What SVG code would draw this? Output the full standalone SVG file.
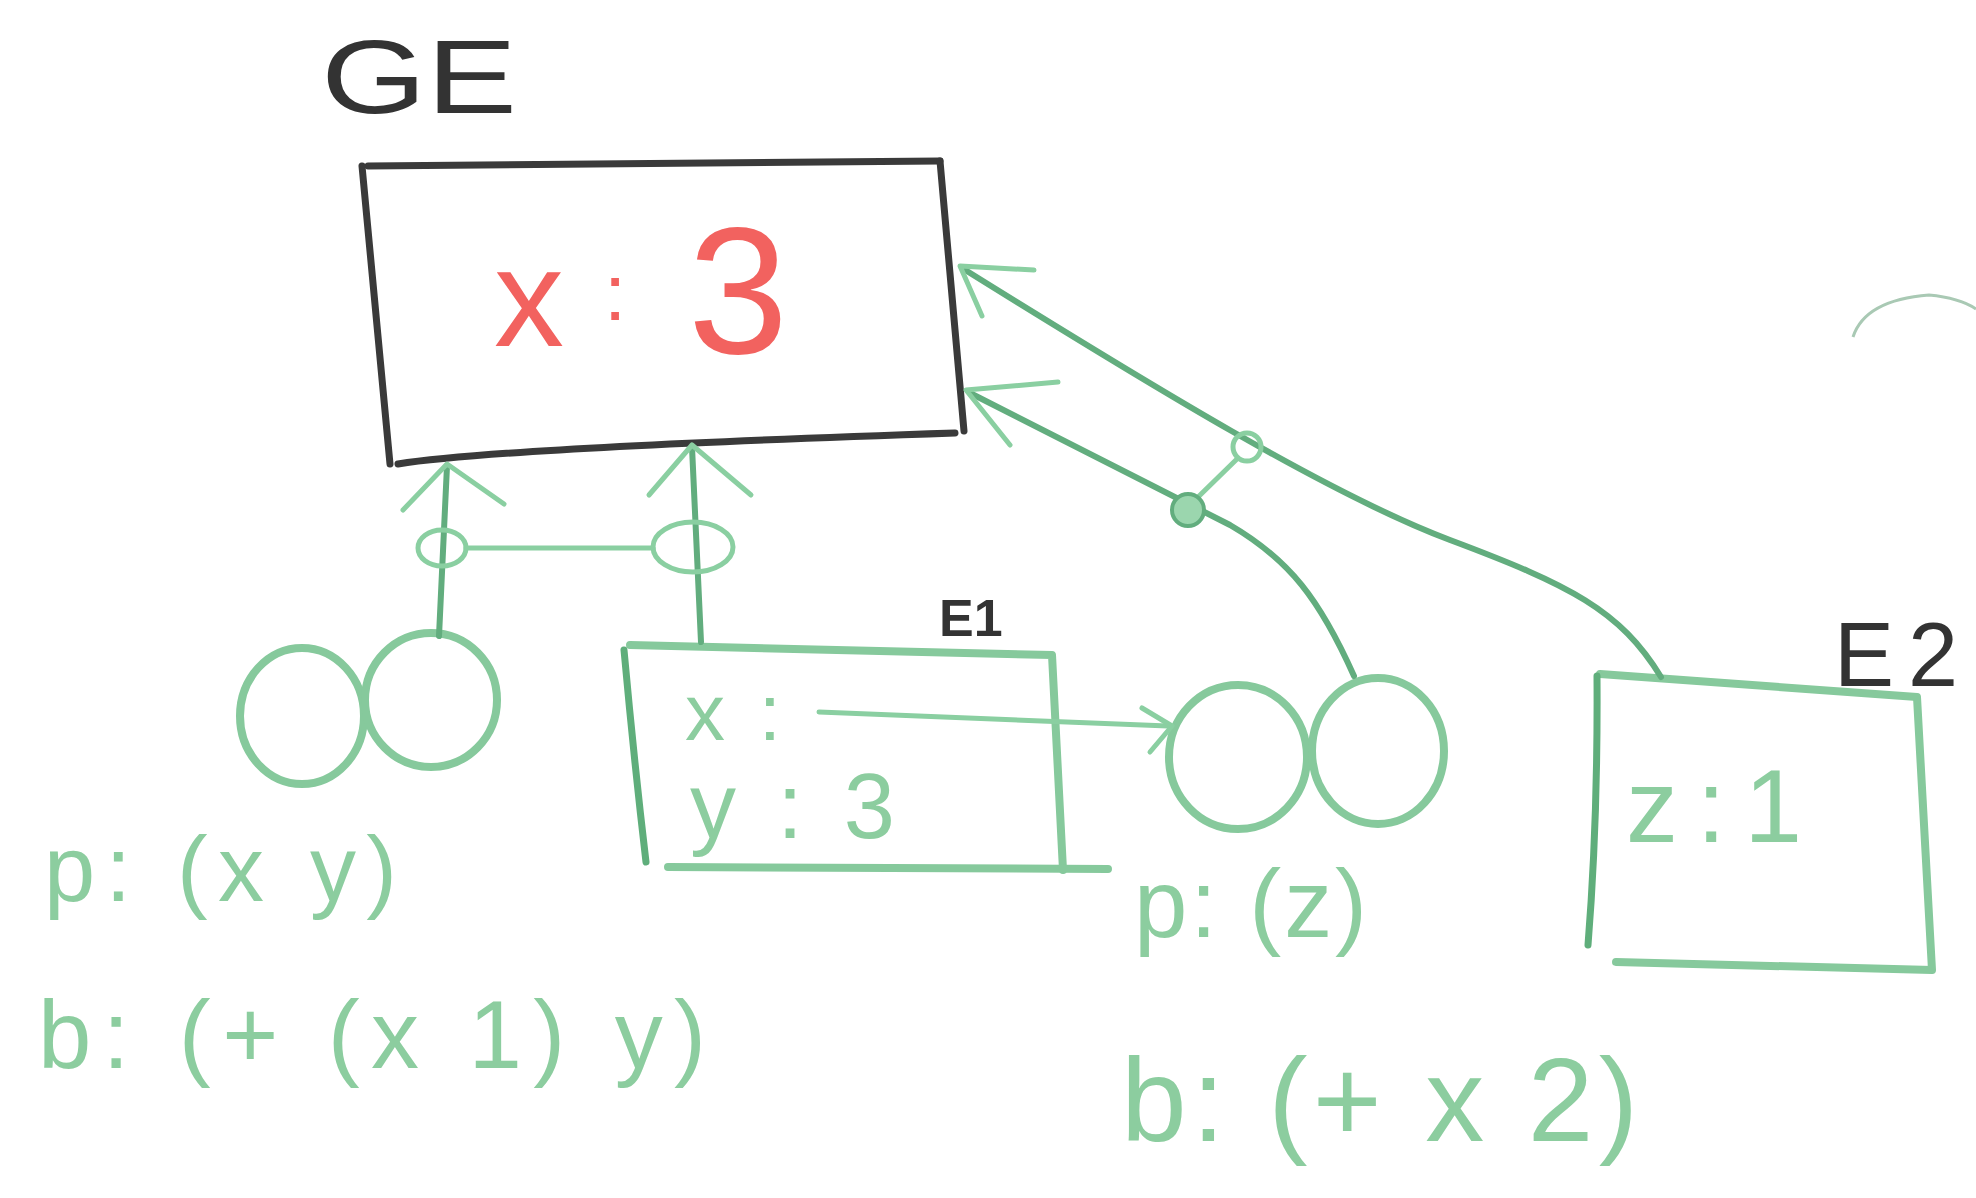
<svg xmlns="http://www.w3.org/2000/svg" width="1976" height="1198" viewBox="0 0 1976 1198">
<style>
.bg{fill:#ffffff}
.dark{fill:none;stroke:#3a3a3a;stroke-width:7;stroke-linecap:round;stroke-linejoin:round}
.box{fill:none;stroke:#86c99c;stroke-width:8;stroke-linecap:round;stroke-linejoin:round}
.boxd{fill:none;stroke:#5fae7b;stroke-width:7;stroke-linecap:round}
.wire{fill:none;stroke:#62ad7e;stroke-width:6;stroke-linecap:round;stroke-linejoin:round}
.wirel{fill:none;stroke:#8acfa1;stroke-width:5;stroke-linecap:round;stroke-linejoin:round}
.bub{fill:none;stroke:#86c99c;stroke-width:8}
.lbl{font-family:"Liberation Sans",Arial,sans-serif;fill:#333333}
.hand{font-family:"Liberation Sans",Arial,sans-serif;fill:#8ccd9f}
.red{font-family:"Liberation Sans",Arial,sans-serif;fill:#f2625f}
</style>
<rect class="bg" x="0" y="0" width="1976" height="1198"/>

<g id="GE">
  <text class="lbl" x="321" y="113" font-size="104" textLength="196" lengthAdjust="spacingAndGlyphs">GE</text>
  <path class="dark" d="M368,166 L940,161"/>
  <path class="dark" d="M362,166 L390,464"/>
  <path class="dark" d="M940,161 L964,431"/>
  <path class="dark" d="M398,464 Q500,448 955,433"/>
  <text class="red" x="494" y="346" font-size="140">x</text>
  <text class="red" x="604" y="320" font-size="80">:</text>
  <text class="red" x="688" y="353" font-size="180">3</text>
</g>

<g id="E1">
  <text class="lbl" x="939" y="636" font-size="52" font-weight="bold">E1</text>
  <path class="box" d="M630,645 L1052,655 L1063,870"/>
  <path class="box" d="M668,867 L1108,869"/>
  <path class="boxd" d="M624,650 Q634,760 646,862"/>
  <text class="hand" x="685" y="740" font-size="80" textLength="96" lengthAdjust="spacing">x :</text>
  <text class="hand" x="690" y="838" font-size="92" textLength="205" lengthAdjust="spacing">y : 3</text>
</g>

<g id="E2">
  <text class="lbl" x="1834" y="686" font-size="90" textLength="124" lengthAdjust="spacing">E2</text>
  <path class="box" d="M1600,674 L1917,697 L1932,970 L1616,962"/>
  <path class="boxd" d="M1597,676 Q1598,820 1588,945"/>
  <text class="hand" x="1626" y="842" font-size="104" textLength="176" lengthAdjust="spacing">z : 1</text>
</g>

<g id="proc1">
  <ellipse class="bub" cx="302" cy="716" rx="62" ry="68"/>
  <ellipse class="bub" cx="431" cy="700" rx="66" ry="67"/>
  <text class="hand" x="44" y="901" font-size="92" textLength="353" lengthAdjust="spacing">p: (x y)</text>
  <text class="hand" x="38" y="1068" font-size="96" textLength="668" lengthAdjust="spacing">b: (+ (x 1) y)</text>
</g>

<g id="proc2">
  <ellipse class="bub" cx="1238" cy="757" rx="69" ry="72"/>
  <ellipse class="bub" cx="1378" cy="751" rx="66" ry="73"/>
  <text class="hand" x="1134" y="937" font-size="96" textLength="233" lengthAdjust="spacing">p: (z)</text>
  <text class="hand" x="1121" y="1141" font-size="118" textLength="517" lengthAdjust="spacing">b: (+ x 2)</text>
</g>

<g id="connectors">
  <path class="wire" d="M439,636 L447,466"/>
  <path class="wirel" d="M403,510 L447,464 L504,504"/>
  <path class="wire" d="M701,642 L692,447"/>
  <path class="wirel" d="M649,495 L692,445 L751,495"/>
  <ellipse class="wirel" cx="442" cy="548" rx="24" ry="18"/>
  <path class="wirel" d="M466,548 L653,548"/>
  <ellipse class="wirel" cx="693" cy="547" rx="40" ry="25"/>
  <path class="wirel" d="M819,712 L1168,726"/>
  <path class="wirel" d="M1142,708 L1172,726 L1150,752"/>
  <path class="wire" d="M1661,677 C1620,610 1570,585 1450,540 C1330,495 1150,385 962,268"/>
  <path class="wirel" d="M1034,270 L960,266 L982,316"/>
  <path class="wire" d="M1354,676 C1320,600 1290,560 1230,525 L970,393"/>
  <path class="wirel" d="M1058,382 L966,390 L1010,445"/>
  <circle class="wirel" cx="1247" cy="447" r="14"/>
  <path class="wirel" d="M1238,458 L1195,500"/>
  <circle cx="1188" cy="510" r="16" fill="#9bd6ae" stroke="#62ad7e" stroke-width="4"/>
  <path d="M1853,337 Q1865,300 1929,295 Q1960,298 1976,309" fill="none" stroke="#a9c9b4" stroke-width="3"/>
</g>
</svg>
